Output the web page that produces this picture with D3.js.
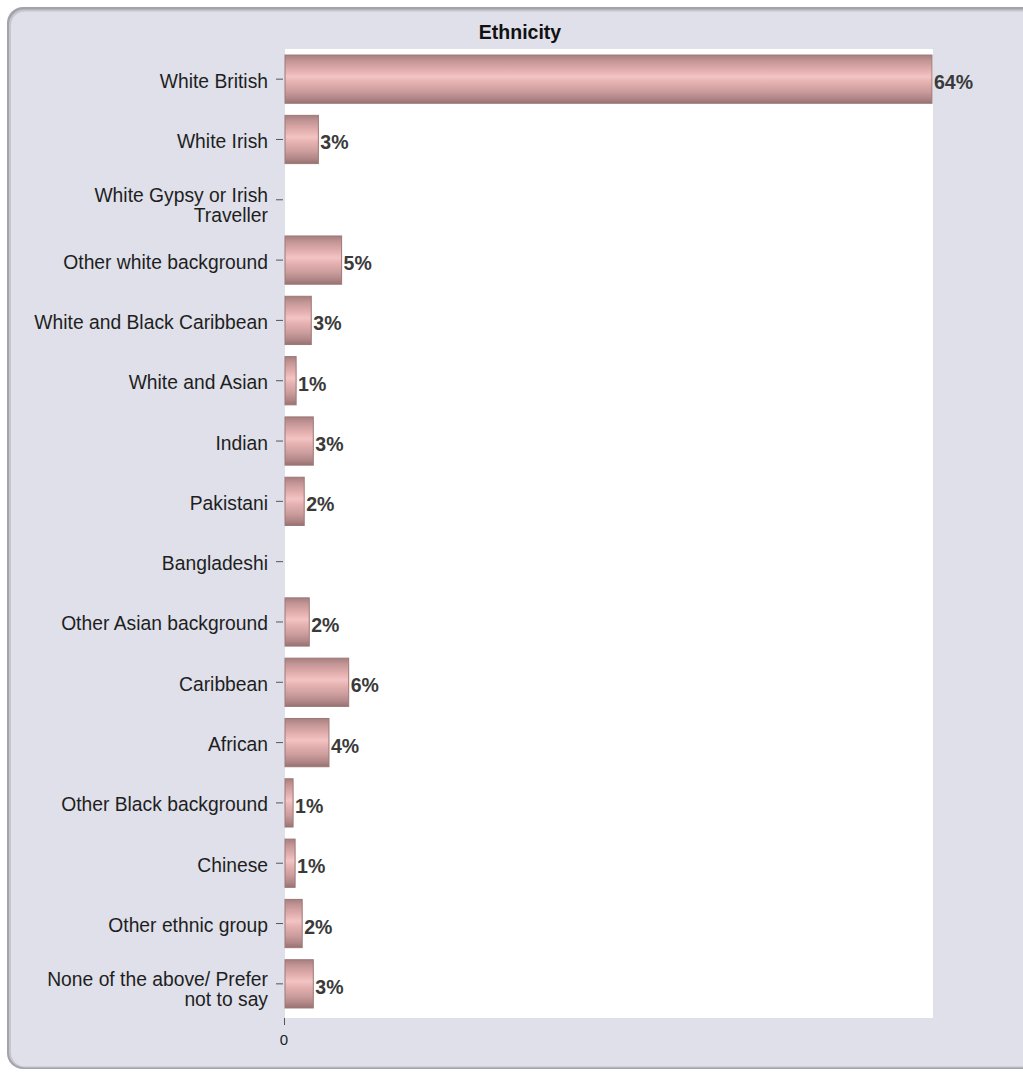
<!DOCTYPE html>
<html>
<head>
<meta charset="utf-8">
<script src="https://cdn.jsdelivr.net/npm/d3@7"></script>
<style>
  body { margin: 0; background: #ffffff; }
  text { font-family: "Liberation Sans", Arial, sans-serif; }
</style>
</head>
<body>
<script>
// chart data
var categories = [
    "White British",
    "White Irish",
    "White Gypsy or Irish\nTraveller",
    "Other white background",
    "White and Black Caribbean",
    "White and Asian",
    "Indian",
    "Pakistani",
    "Bangladeshi",
    "Other Asian background",
    "Caribbean",
    "African",
    "Other Black background",
    "Chinese",
    "Other ethnic group",
    "None of the above/ Prefer\nnot to say"
];
var values = [64.0, 3.3, 0, 5.6, 2.6, 1.1, 2.8, 1.9, 0, 2.4, 6.3, 4.35, 0.8, 1.0, 1.7, 2.8];
var valueLabels = ["64%", "3%", "", "5%", "3%", "1%", "3%", "2%", "", "2%", "6%", "4%", "1%", "1%", "2%", "3%"];
var xTicks = [0];
var title = "Ethnicity";

var width = 1023, height = 1074;
var plot = { left: 285, right: 933, top: 49, bottom: 1018 };

var svg = d3.select('body')
    .append("svg")
    .attr('width', width)
    .attr('height', height);

var defs = svg.append("defs");

var grad = defs.append("linearGradient")
    .attr("id", "barGrad")
    .attr("x1", 0).attr("y1", 0)
    .attr("x2", 0).attr("y2", 1);
[
    ["0%", "#a67e7e"],
    ["12%", "#c39595"],
    ["32%", "#e4afaf"],
    ["45%", "#f3c4c4"],
    ["56%", "#e6b1b1"],
    ["75%", "#cc9d9d"],
    ["90%", "#b08686"],
    ["100%", "#987171"]
].forEach(function(s) {
    grad.append("stop").attr("offset", s[0]).attr("stop-color", s[1]);
});

// panel
svg.append('rect')
    .attr('x', 7).attr('y', 7)
    .attr('width', 1040).attr('height', 1062)
    .attr('rx', 16)
    .style('fill', "#a3a3ab");
svg.append('rect')
    .attr('x', 9).attr('y', 9.5)
    .attr('width', 1040).attr('height', 1058)
    .attr('rx', 15)
    .style('fill', "#c6c6ce");
svg.append('rect')
    .attr('x', 11).attr('y', 11.5)
    .attr('width', 1040).attr('height', 1055)
    .attr('rx', 14)
    .style('fill', "#dfe0ea");

// plot area
svg.append('rect')
    .attr('x', plot.left)
    .attr('y', plot.top)
    .attr('width', plot.right - plot.left)
    .attr('height', plot.bottom - plot.top)
    .style('fill', "#ffffff");

var x = d3.scaleLinear()
    .domain([0, 64.1])
    .range([plot.left, plot.right]);

var y = d3.scaleBand()
    .domain(categories)
    .range([plot.top, plot.bottom - 4])
    .paddingInner(0.2)
    .paddingOuter(0.1);

var rows = categories.map(function(c, i) {
    return { cat: c, value: values[i], label: valueLabels[i] };
});

// title
svg.append("text")
    .attr('x', 520)
    .attr('y', 39)
    .attr('text-anchor', "middle")
    .style('font-size', "19.5px")
    .style('font-weight', "bold")
    .style('fill', "#111")
    .text(title);

// bars
svg.selectAll("rect.bar")
    .data(rows.filter(function(d) { return d.value > 0; }))
    .enter()
    .append("rect")
    .attr("class", "bar")
    .attr('x', x(0))
    .attr('y', function(d) { return y(d.cat); })
    .attr('width', function(d) { return x(d.value) - x(0); })
    .attr('height', y.bandwidth())
    .style('fill', "url(#barGrad)")
    .style('stroke', "#9d7878")
    .style('stroke-width', 1);

// value labels
svg.selectAll("text.val")
    .data(rows.filter(function(d) { return d.label !== ""; }))
    .enter()
    .append("text")
    .attr("class", "val")
    .attr('x', function(d) { return x(d.value) + 2; })
    .attr('y', function(d) { return y(d.cat) + y.bandwidth() / 2 + 10; })
    .style('font-size', "19.5px")
    .style('font-weight', "bold")
    .style('fill', "#3a3a3a")
    .text(function(d) { return d.label; });

// y axis: ticks and category names
var yAxis = svg.append("g");
categories.forEach(function(c) {
    var cy = y(c) + y.bandwidth() / 2;
    yAxis.append("line")
        .attr('x1', plot.left - 9).attr('x2', plot.left - 2)
        .attr('y1', cy).attr('y2', cy)
        .style('stroke', "#555")
        .style('stroke-width', 1);
    var lines = c.split("\n");
    var t = yAxis.append("text")
        .attr('text-anchor', "end")
        .style('font-size', "19.3px")
        .style('fill', "#1e1e1e");
    lines.forEach(function(line, i) {
        t.append("tspan")
            .attr('x', plot.left - 17)
            .attr('y', lines.length === 1 ? cy + 8.5 : cy + 2 + i * 20)
            .text(line);
    });
});

// x axis: only zero
xTicks.forEach(function(v) {
    svg.append("line")
        .attr('x1', x(v) - 0.5).attr('x2', x(v) - 0.5)
        .attr('y1', plot.bottom).attr('y2', plot.bottom + 7)
        .style('stroke', "#555");
    svg.append("text")
        .attr('x', x(v) - 1)
        .attr('y', plot.bottom + 27)
        .attr('text-anchor', "middle")
        .style('font-size', "15px")
        .style('fill', "#222")
        .text(v);
});
</script>
</body>
</html>
